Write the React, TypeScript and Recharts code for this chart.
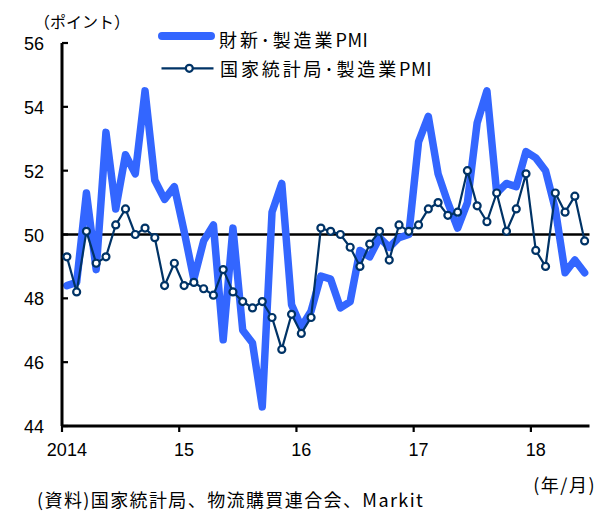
import React from 'react';
import { LineChart, Line, XAxis, YAxis, ReferenceLine } from 'recharts';

// ---- data ----
const yearLabels = ['2014', '15', '16', '17', '18'];
const yearStartMonth = [0, 12, 24, 36, 48];
const yTicks = [44, 46, 48, 50, 52, 54, 56];

// 財新・製造業PMI, Jan 2014 – Jun 2018
const caixinPMI = [
  48.4, 48.5, 51.3, 48.9, 53.2, 50.8, 52.5, 51.9, 54.5, 51.7, 51.1, 51.5,
  50.1, 48.6, 49.8, 50.3, 46.7, 50.2, 47.0, 46.6, 44.6, 50.7, 51.6, 47.8,
  47.1, 47.6, 48.7, 48.6, 47.7, 47.9, 49.5, 49.3, 49.9, 49.6, 49.9, 50.0,
  52.9, 53.7, 51.9, 51.0, 50.2, 51.0, 53.5, 54.5, 51.3, 51.6, 51.5, 52.6,
  52.4, 52.0, 50.8, 48.8, 49.2, 48.8,
];

// 国家統計局・製造業PMI, Jan 2014 – Jun 2018
const nbsPMI = [
  49.3, 48.2, 50.1, 49.1, 49.3, 50.3, 50.8, 50.0, 50.2, 49.9, 48.4, 49.1,
  48.4, 48.5, 48.3, 48.1, 48.9, 48.2, 47.9, 47.7, 47.9, 47.4, 46.4, 47.5,
  46.9, 47.4, 50.2, 50.1, 50.0, 49.6, 49.0, 49.7, 50.1, 49.2, 50.3, 50.1,
  50.3, 50.8, 51.0, 50.6, 50.7, 52.0, 50.9, 50.4, 51.3, 50.1, 50.8, 51.9,
  49.5, 49.0, 51.3, 50.7, 51.2, 49.8,
];

const data = caixinPMI.map((v, i) => ({ m: i + 0.5, caixin: v, nbs: nbsPMI[i] }));
const monthCount = caixinPMI.length;

// ---- layout ----
const W = 597;
const H = 512;
const PLOT_LEFT = 62;
const PLOT_RIGHT = 589.5;
const PLOT_TOP = 43;
const PLOT_BOTTOM = 426;
const HALF_MONTH = (PLOT_RIGHT - PLOT_LEFT) / monthCount / 2;

const BLUE = '#3366FF';
const NAVY = '#003366';
const NUM_FONT = '"Liberation Sans", Arial, sans-serif';
const JP_FONT = '"Noto Sans CJK JP", "Noto Sans", sans-serif';

const YTick = (props: any) => {
  const { x, y, payload } = props;
  return (
    <g>
      <line x1={PLOT_LEFT} x2={PLOT_LEFT + 6} y1={y} y2={y} stroke="#000" strokeWidth={2.2} />
      <text
        x={x}
        y={y}
        dy={1}
        textAnchor="end"
        dominantBaseline="central"
        fontFamily={NUM_FONT}
        fontSize={18}
        fill="#000"
      >
        {payload.value}
      </text>
    </g>
  );
};

const XTick = (props: any) => {
  const { x, index } = props;
  const label = yearLabels[index] ?? '';
  return (
    <g>
      <line x1={x} x2={x} y1={PLOT_BOTTOM} y2={PLOT_BOTTOM + 6} stroke="#000" strokeWidth={2.2} />
      <text
        x={x + HALF_MONTH}
        y={PLOT_BOTTOM + 17}
        dy="0.72em"
        textAnchor="middle"
        fontFamily={NUM_FONT}
        fontSize={18}
        fill="#000"
      >
        {label}
      </text>
    </g>
  );
};

export default function App() {
  return (
    <div style={{ position: 'absolute', left: 0, top: 0, width: W, height: H, background: '#fff' }}>
      <div style={{ position: 'absolute', left: 0, top: 0 }}>
        <LineChart
          width={W}
          height={H}
          data={data}
          margin={{ top: PLOT_TOP, right: W - PLOT_RIGHT, bottom: 0, left: 0 }}
        >
          <XAxis
            dataKey="m"
            type="number"
            domain={[0, monthCount]}
            ticks={yearStartMonth}
            interval={0}
            height={H - PLOT_BOTTOM}
            axisLine={{ stroke: '#000', strokeWidth: 3 }}
            tickLine={false}
            tickSize={0}
            tickMargin={17}
            tick={<XTick />}
            allowDataOverflow
          />
          <YAxis
            type="number"
            domain={[44, 56]}
            ticks={yTicks}
            interval={0}
            width={PLOT_LEFT}
            axisLine={{ stroke: '#000', strokeWidth: 3 }}
            tickLine={false}
            tickSize={0}
            tickMargin={18}
            tick={<YTick />}
          />
          <ReferenceLine y={50} stroke="#000" strokeWidth={2.5} ifOverflow="extendDomain" />
          <Line
            dataKey="caixin"
            type="linear"
            stroke={BLUE}
            strokeWidth={7.5}
            strokeLinejoin="round"
            strokeLinecap="round"
            dot={false}
            activeDot={false}
            isAnimationActive={false}
          />
          <Line
            dataKey="nbs"
            type="linear"
            stroke={NAVY}
            strokeWidth={2.2}
            dot={{ r: 3.5, fill: '#fff', stroke: NAVY, strokeWidth: 2.2 }}
            activeDot={false}
            isAnimationActive={false}
          />
        </LineChart>
      </div>
      <svg
        width={W}
        height={H}
        style={{ position: 'absolute', left: 0, top: 0, pointerEvents: 'none' }}
      >
        <text x={34} y={21} dominantBaseline="central" fontFamily={JP_FONT} fontSize={16} fill="#000">
          （ポイント）
        </text>
        {/* legend */}
        <line x1={162} x2={211} y1={36} y2={36} stroke={BLUE} strokeWidth={8} strokeLinecap="round" />
        <text x={219} y={38.5} dominantBaseline="central" fontFamily={JP_FONT} fontSize={18} fill="#000">
          <tspan letterSpacing={2.9}>財新･製造業</tspan>
          <tspan letterSpacing={0.6}>PMI</tspan>
        </text>
        <line x1={161.5} x2={213.5} y1={68.3} y2={68.3} stroke={NAVY} strokeWidth={2.2} />
        <circle cx={189.3} cy={68.3} r={3.5} fill="#fff" stroke={NAVY} strokeWidth={2.2} />
        <text x={220} y={67.8} dominantBaseline="central" fontFamily={JP_FONT} fontSize={18} fill="#000">
          <tspan letterSpacing={2.9}>国家統計局･製造業</tspan>
          <tspan letterSpacing={0.6}>PMI</tspan>
        </text>
        <text
          x={596}
          y={483.5}
          textAnchor="end"
          dominantBaseline="central"
          fontFamily={JP_FONT}
          fontSize={18}
          letterSpacing={1.5}
          fill="#000"
        >
          (年/月)
        </text>
        <text
          x={37}
          y={498.5}
          dominantBaseline="central"
          fontFamily={JP_FONT}
          fontSize={18}
          letterSpacing={1.4}
          fill="#000"
        >
          (資料)国家統計局、物流購買連合会、Markit
        </text>
      </svg>
    </div>
  );
}
